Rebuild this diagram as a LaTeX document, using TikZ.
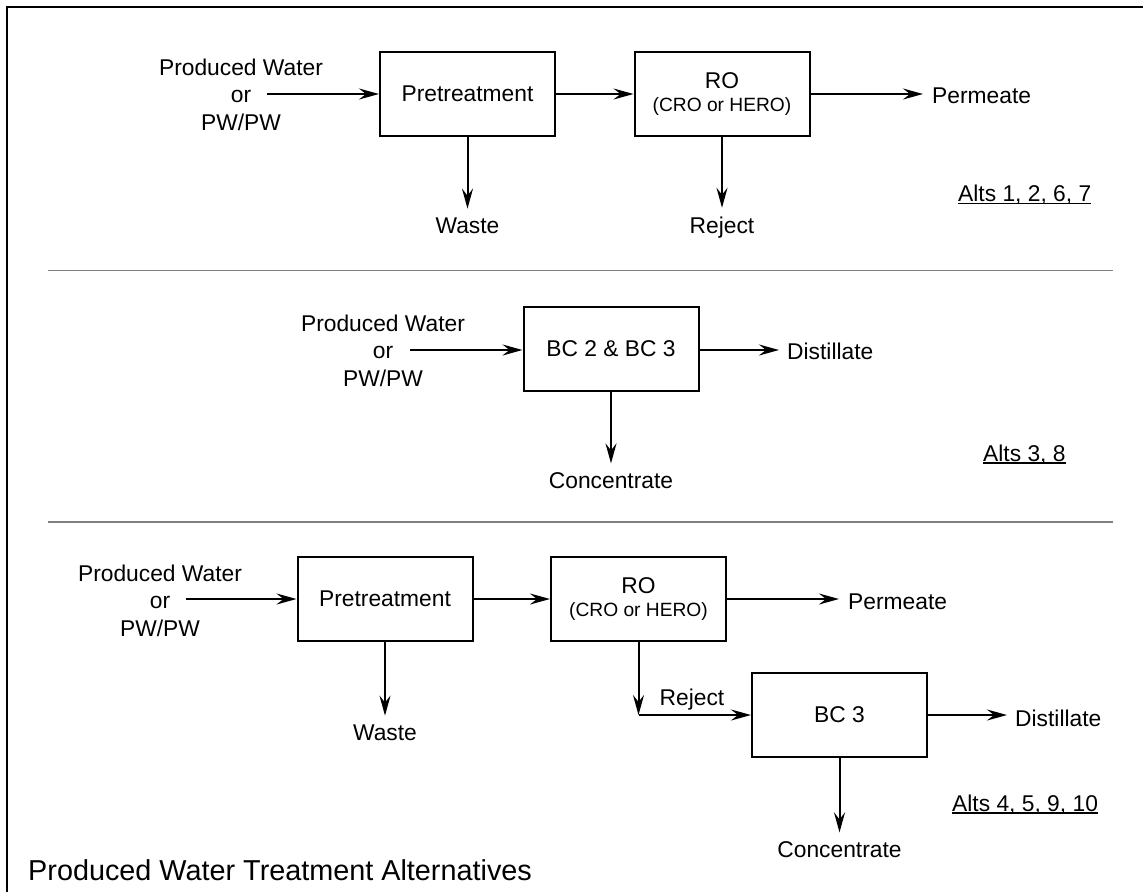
\documentclass[tikz,border=0pt]{standalone}
\usepackage{fontspec}
\setmainfont{Liberation Sans}
\usetikzlibrary{arrows.meta}
\newcommand{\fmain}{\fontsize{22.8}{27.5}\selectfont}
\newcommand{\fsmall}{\fontsize{19.2}{23}\selectfont}
\newcommand{\ftitle}{\fontsize{28.8}{32}\selectfont}
\tikzset{
  procbox/.style={draw, line width=2pt, minimum width=175pt, minimum height=84pt, inner sep=0pt, font=\fmain, align=center},
  lbl/.style={inner sep=0pt, font=\fmain, align=center},
  arr/.style={-{Stealth[length=20pt,width=11pt,inset=7pt]}, line width=2pt},
  sep/.style={draw=black!50, line width=1.3pt},
  frame/.style={line width=2.2pt},
  uline/.style={line width=1.5pt}
}
\begin{document}
\begin{tikzpicture}[x=1pt,y=-1pt]
\useasboundingbox (0,0) rectangle (1143,892);
% frame
\draw[frame] (7,892) -- (7,7) -- (1143,7);

% ---------- panel 1 ----------
\node[lbl] (src1) at (241,94.5) {Produced Water\\or\\PW/PW};
\coordinate (in1) at (267,94);
\node[procbox] (pre1) at (467.5,94) {Pretreatment};
\node[procbox] (ro1) at (722,94) {RO\\[-4pt]{\fsmall (CRO or HERO)}};
\node[lbl, anchor=base west] (perm1) at (932,103) {Permeate};
\node[lbl, anchor=base] (waste1) at (467.5,233) {Waste};
\node[lbl, anchor=base] (rej1) at (722,233) {Reject};
\node[lbl, anchor=base west] (alt1) at (958,201.5) {Alts 1, 2, 6, 7};
\draw[uline] ([yshift=-2pt]alt1.base west) -- ([yshift=-2pt]alt1.base east);

\draw[arr] (in1) -- (pre1.west);
\draw[arr] (pre1.east) -- (ro1.west);
\draw[arr, shorten >=9pt] (ro1.east) -- (ro1.east -| perm1.west);
\draw[arr, shorten >=8.5pt] (pre1.south) -- (pre1.south |- waste1.north);
\draw[arr, shorten >=8.5pt] (ro1.south) -- (ro1.south |- rej1.north);

\coordinate (s1a) at (48,270.7);
\coordinate (s1b) at (1113,270.7);
\draw[sep] (s1a) -- (s1b);

% ---------- panel 2 ----------
\node[lbl] (src2) at (383,350.5) {Produced Water\\or\\PW/PW};
\coordinate (in2) at (410,350);
\node[procbox] (bc2) at (611,349) {BC 2 \& BC 3};
\node[lbl, anchor=base west] (dist2) at (787,359) {Distillate};
\node[lbl, anchor=base] (conc2) at (611,488) {Concentrate};
\node[lbl, anchor=base west] (alt2) at (983,461) {Alts 3, 8};
\draw[uline] ([yshift=-2pt]alt2.base west) -- ([yshift=-2pt]alt2.base east);

\draw[arr] (in2) -- (in2 -| bc2.west);
\draw[arr, shorten >=8pt] (bc2.east |- in2) -- (in2 -| dist2.west);
\draw[arr, shorten >=8.5pt] (bc2.south) -- (bc2.south |- conc2.north);

\coordinate (s2a) at (48,522);
\coordinate (s2b) at (1113,522);
\draw[sep] (s2a) -- (s2b);

% ---------- panel 3 ----------
\node[lbl] (src3) at (160,600.5) {Produced Water\\or\\PW/PW};
\coordinate (in3) at (186,599);
\node[procbox] (pre3) at (385,599) {Pretreatment};
\node[procbox] (ro3) at (638.5,599) {RO\\[-4pt]{\fsmall (CRO or HERO)}};
\node[lbl, anchor=base west] (perm3) at (848,609) {Permeate};
\node[lbl, anchor=base] (waste3) at (385,740) {Waste};
\coordinate (rj3) at (638.5,715);
\node[procbox] (bc3) at (839.5,715) {BC 3};
\node[lbl, anchor=base] (rejl3) at (692,705) {Reject};
\node[lbl, anchor=base west] (dist3) at (1015,726) {Distillate};
\node[lbl, anchor=base] (conc3) at (839.5,857) {Concentrate};
\node[lbl, anchor=base west] (alt3) at (952,811) {Alts 4, 5, 9, 10};
\draw[uline] ([yshift=-2pt]alt3.base west) -- ([yshift=-2pt]alt3.base east);

\draw[arr] (in3) -- (pre3.west);
\draw[arr] (pre3.east) -- (ro3.west);
\draw[arr, shorten >=9pt] (ro3.east) -- (ro3.east -| perm3.west);
\draw[arr, shorten >=8.5pt] (pre3.south) -- (pre3.south |- waste3.north);
\draw[arr] (ro3.south) -- (rj3);
\draw[arr] (rj3) -- (bc3.west);
\draw[arr, shorten >=8pt] (bc3.east) -- (bc3.east -| dist3.west);
\draw[arr, shorten >=8.5pt] (bc3.south) -- (bc3.south |- conc3.north);

% title
\node[inner sep=0pt, font=\ftitle, anchor=base west] (title) at (28,880) {Produced Water Treatment Alternatives};
\end{tikzpicture}
\end{document}
